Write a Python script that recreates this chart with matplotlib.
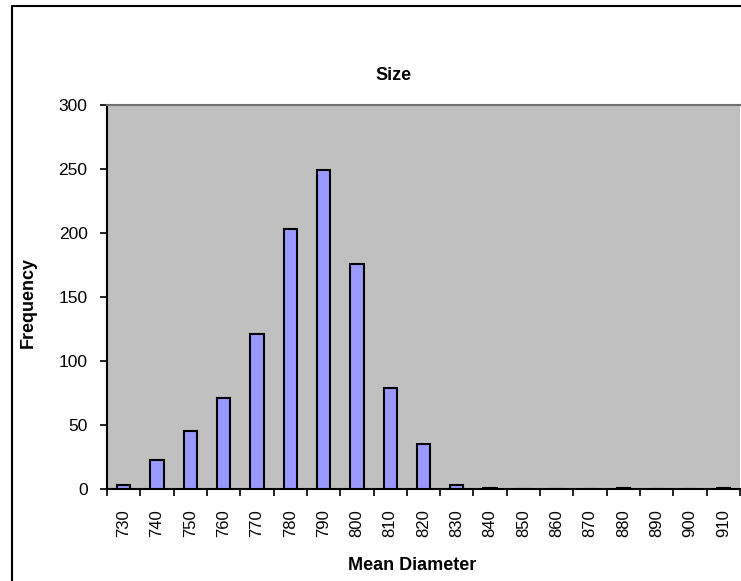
import matplotlib
matplotlib.use("Agg")
import matplotlib.pyplot as plt
from matplotlib.lines import Line2D
import numpy as np

plt.rcParams['font.family'] = ['Liberation Sans', 'DejaVu Sans']

# Histogram bins (mean diameter) and counts
bins = [730, 740, 750, 760, 770, 780, 790, 800, 810, 820,
        830, 840, 850, 860, 870, 880, 890, 900, 910]
counts = [3, 23, 45, 71, 121, 203, 249, 176, 79, 35,
          3, 1, 0, 0, 0, 1, 0, 0, 1]
y_ticks = [0, 50, 100, 150, 200, 250, 300]

W, H = 741, 581
fig = plt.figure(figsize=(W / 100, H / 100), dpi=100)

# plot area in pixel units
left, right, top, bottom = 107, 740, 105, 489
ax = fig.add_axes([left / W, 1 - bottom / H, (right - left) / W, (bottom - top) / H])
ax.set_facecolor('#C0C0C0')

x = np.arange(len(bins))
ax.bar(x, counts, width=0.4, color='#9999FF', edgecolor='black', linewidth=1.5, zorder=3)

ax.set_xlim(-0.5, len(bins) - 0.5)
ax.set_ylim(0, 300)

# category boundaries carry the ticks, centres carry the labels
ax.set_xticks(np.arange(len(bins) + 1) - 0.5)
ax.set_xticklabels([])
ax.set_xticks(x, minor=True)
ax.set_xticklabels([str(b) for b in bins], minor=True, rotation=90, fontsize=12)
ax.tick_params(axis='x', which='major', direction='out', length=5, width=1.2, color='black')
ax.tick_params(axis='x', which='minor', length=0, pad=14.5)

ax.set_yticks(y_ticks)
ax.set_yticklabels([str(v) for v in y_ticks], fontsize=12.5)
ax.tick_params(axis='y', direction='out', length=5, width=1.2, pad=9)

for side in ('left', 'bottom'):
    ax.spines[side].set_color('black')
    ax.spines[side].set_linewidth(1.5)
ax.spines['top'].set_color('#707070')
ax.spines['top'].set_linewidth(1.5)
ax.spines['right'].set_visible(False)

fig.text(394 / W, 1 - 76 / H, 'Size', ha='center', va='center',
         fontsize=13, fontweight='bold')
fig.text(412 / W, 1 - 565 / H, 'Mean Diameter', ha='center', va='center',
         fontsize=13, fontweight='bold')
fig.text(28 / W, 1 - 303 / H, 'Frequency', ha='center', va='center',
         rotation=90, fontsize=13, fontweight='bold')

# chart frame
fig.add_artist(Line2D([12 / W, 12 / W, 1.01], [-0.01, 1 - 6 / H, 1 - 6 / H],
                      transform=fig.transFigure, color='black', linewidth=1.5))

fig.savefig('out.png', dpi=100)
